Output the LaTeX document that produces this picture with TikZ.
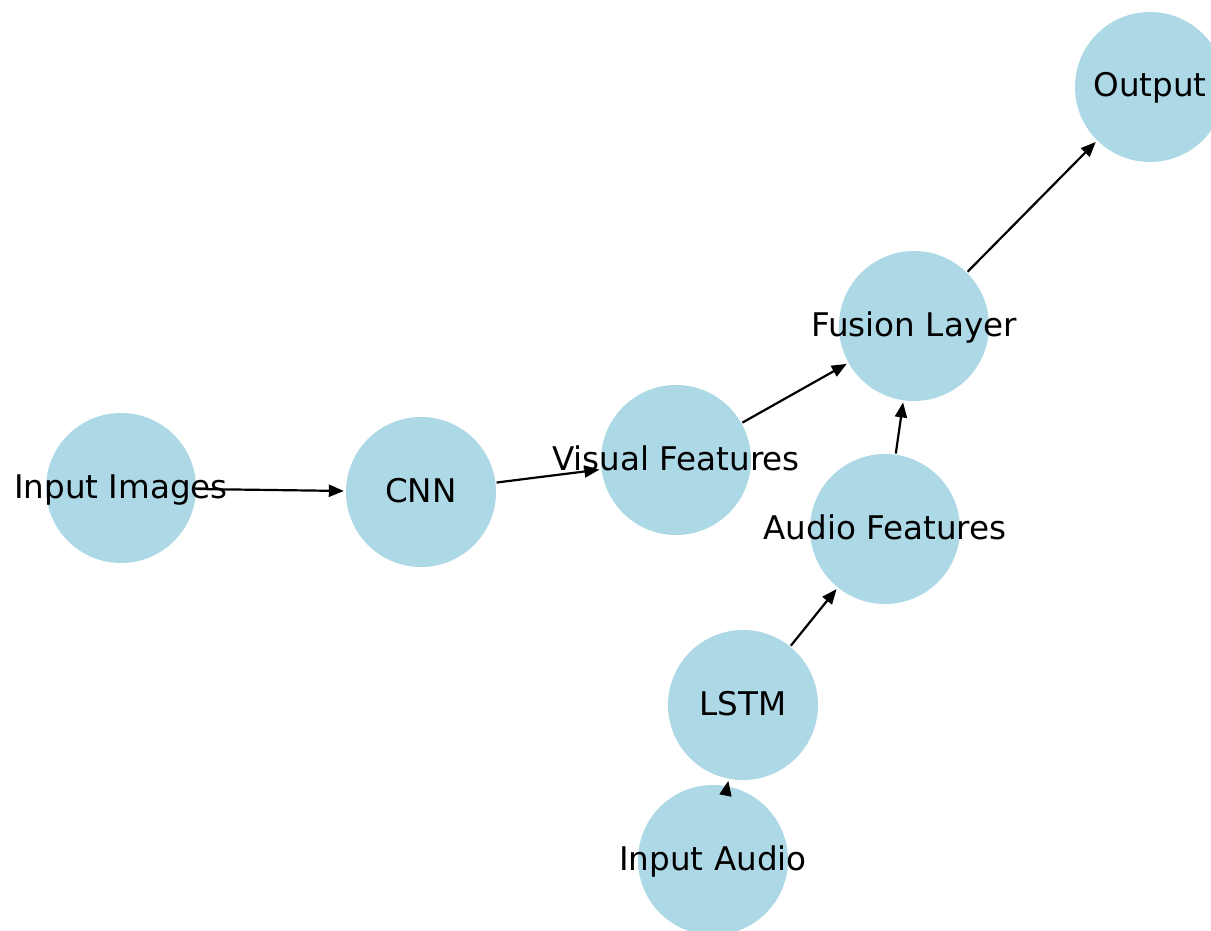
\documentclass[tikz,border=0pt]{standalone}
\usepackage{fontspec}
\setmainfont{DejaVu Sans}
\usetikzlibrary{arrows.meta}
\tikzset{
  nd/.style={circle, fill=nodeblue, draw=none, minimum size=150pt, inner sep=0pt},
  lbl/.style={inner sep=0pt, font=\fontsize{32.6}{38}\selectfont, text height=20pt, text depth=0pt},
  edge/.style={line width=2.2pt, -{Triangle[length=15pt,width=12pt]}, shorten >=2pt, shorten <=1pt}
}
\definecolor{nodeblue}{HTML}{ADD8E6}
\begin{document}
\begin{tikzpicture}[x=1pt,y=-1pt]
\useasboundingbox (0,0) rectangle (1211,931);
\clip (0,0) rectangle (1211,931);
\fill[white] (0,0) rectangle (1211,931);
\node[nd] (ii) at (121,488) {};
\node[nd] (cnn) at (421,492) {};
\node[nd] (vf) at (676,460) {};
\node[nd] (fl) at (914,326) {};
\node[nd] (out) at (1150,87) {};
\node[nd] (af) at (885,529) {};
\node[nd] (lstm) at (743,705) {};
\node[nd] (ia) at (713,860) {};
\draw[edge] (ii) -- (cnn);
\draw[edge] (cnn) -- (vf);
\draw[edge] (vf) -- (fl);
\draw[edge] (fl) -- (out);
\draw[edge] (af) -- (fl);
\draw[edge] (lstm) -- (af);
\draw[edge] (ia) -- (lstm);
\node[lbl] (tii) at (ii) {Input Images};
\node[lbl] (tcnn) at (cnn) {CNN};
\node[lbl] (tvf) at (vf) {Visual Features};
\node[lbl] (tfl) at (fl) {Fusion Layer};
\node[lbl] (tout) at (out) {Output};
\node[lbl] (taf) at (af) {Audio Features};
\node[lbl] (tlstm) at (lstm) {LSTM};
\node[lbl] (tia) at (ia) {Input Audio};
\end{tikzpicture}
\end{document}
